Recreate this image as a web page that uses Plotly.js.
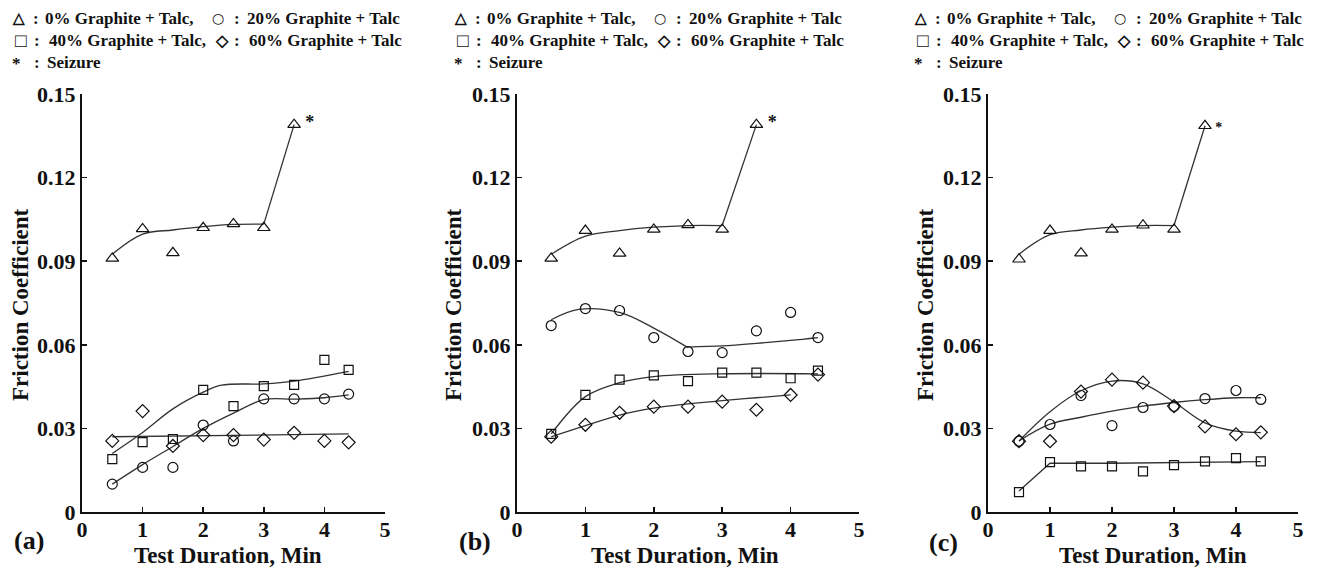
<!DOCTYPE html>
<html>
<head>
<meta charset="utf-8">
<script src="https://cdn.plot.ly/plotly-3.0.1.min.js"></script>
<style>html,body{margin:0;padding:0;background:#fff;}#chart{width:1318px;height:567px;}</style>
</head>
<body>
<div id="chart"></div>
<script>
// ---------- data ----------
const xTri = [0.5, 1, 1.5, 2, 2.5, 3, 3.5];
const xAll = [0.5, 1, 1.5, 2, 2.5, 3, 3.5, 4, 4.4];

// Panel (a)
const a_g0  = [0.091, 0.1016, 0.093, 0.102, 0.1034, 0.102, 0.139];
const a_g20 = [0.010, 0.016, 0.016, 0.0312, 0.0255, 0.0406, 0.0406, 0.0406, 0.0423];
const a_g40 = [0.019, 0.0251, 0.0262, 0.0438, 0.038, 0.0452, 0.0456, 0.0546, 0.051];
const a_g60 = [0.0255, 0.0362, 0.0237, 0.0276, 0.0276, 0.026, 0.0284, 0.0255, 0.025];
// Panel (b)
const b_g0  = [0.091, 0.101, 0.0928, 0.1014, 0.103, 0.1014, 0.139];
const b_g20 = [0.0669, 0.073, 0.0723, 0.0626, 0.0576, 0.0572, 0.065, 0.0716, 0.0626];
const b_g40 = [0.028, 0.042, 0.0475, 0.049, 0.047, 0.050, 0.050, 0.048, 0.0507];
const b_g60 = [0.027, 0.0313, 0.0356, 0.0378, 0.0378, 0.0396, 0.0367, 0.042, 0.0493];
// Panel (c)
const c_g0  = [0.0907, 0.101, 0.0929, 0.1014, 0.1029, 0.1014, 0.1386];
const c_g20 = [0.0254, 0.0314, 0.0418, 0.031, 0.0375, 0.0379, 0.0407, 0.0436, 0.0404];
const c_g40 = [0.0071, 0.0179, 0.0164, 0.0164, 0.0146, 0.0168, 0.0182, 0.0193, 0.0182];
const c_g60 = [0.0254, 0.0254, 0.0432, 0.0475, 0.0464, 0.038, 0.0307, 0.0279, 0.0286];

// fitted curves
const fit0_x = [0.5, 1, 1.5, 2, 2.5, 3];
const a_fit0 = [0.0925, 0.0997, 0.1012, 0.1024, 0.1032, 0.1033];
const b_fit0 = [0.0925, 0.0990, 0.1010, 0.1022, 0.1028, 0.1028];
const c_fit0 = [0.0925, 0.0995, 0.1012, 0.1022, 0.1028, 0.1028];
const seize_x = [3, 3.5];

const a_fit20_x = [0.5, 1, 1.5, 2, 2.5, 3, 3.5, 4, 4.4];
const a_fit20   = [0.010, 0.017, 0.0235, 0.030, 0.0355, 0.0403, 0.0405, 0.041, 0.042];
const a_fit40_x = [0.5, 1, 1.5, 2, 2.3, 3, 3.5, 4.4];
const a_fit40   = [0.021, 0.0285, 0.037, 0.043, 0.0455, 0.046, 0.047, 0.0505];
const a_fit60_x = [0.5, 4.4];
const a_fit60   = [0.027, 0.028];

const b_fit20a_x = [0.5, 0.9, 1.5, 2, 2.5];
const b_fit20a   = [0.069, 0.0727, 0.0716, 0.066, 0.059];
const b_fit20b_x = [2.5, 3, 3.5, 4, 4.4];
const b_fit20b   = [0.0592, 0.0596, 0.0605, 0.0616, 0.0626];
const b_fit40_x = [0.5, 1, 1.5, 2, 3, 4.4];
const b_fit40   = [0.028, 0.0414, 0.0464, 0.0486, 0.0496, 0.0496];
const b_fit60_x = [0.5, 1, 1.5, 2, 2.5, 3, 3.5, 4];
const b_fit60   = [0.027, 0.031, 0.0348, 0.0373, 0.0388, 0.0400, 0.041, 0.042];

const c_fit20_x = [0.5, 1, 1.5, 2, 2.5, 3, 3.5, 4, 4.4];
const c_fit20   = [0.0255, 0.0315, 0.034, 0.0362, 0.038, 0.0393, 0.0403, 0.041, 0.041];
const c_fit40_x = [0.5, 1, 2, 3, 4.4];
const c_fit40   = [0.0075, 0.0175, 0.0175, 0.0177, 0.0181];
const c_fit60_x = [0.5, 1, 1.5, 2, 2.5, 3, 3.5, 4, 4.4];
const c_fit60   = [0.0255, 0.036, 0.0435, 0.047, 0.046, 0.0395, 0.032, 0.029, 0.0285];

const seizure = {a: [3.76, 0.1395], b: [3.73, 0.1395], c: [3.72, 0.1375]};

const yTicks = [0, 0.03, 0.06, 0.09, 0.12, 0.15];
const yTickText = ['0', '0.03', '0.06', '0.09', '0.12', '0.15'];
const xTicks = [0, 1, 2, 3, 4, 5];
const xTickText = ['0', '1', '2', '3', '4', '5'];

// legend rows: [symbol, label]
const legendSymbols = ['\u25B3', '\u25CB', '\u25A1', '\u25C7', '*'];
const legendLabels = ['0% Graphite + Talc,', '20% Graphite + Talc', '40% Graphite + Talc,', '60% Graphite + Talc', 'Seizure'];
const yTitle = 'Friction Coefficient';
const xTitle = 'Test Duration, Min';
const panelLabels = ['(a)', '(b)', '(c)'];

// ---------- drawing ----------
const W = 1318, H = 567;
const SERIF = 'Liberation Serif';
const SYMF = 'DejaVu Sans';
const lineStyle = {color: '#333', width: 1.3};
const mk = (sym, size) => ({symbol: sym, size: size, color: '#111', line: {color: '#111', width: 1.2}});

const traces = [];
function addFit(x, y, ax, shape) {
  traces.push({x: x, y: y, xaxis: ax.x, yaxis: ax.y, mode: 'lines', line: Object.assign({shape: shape || 'spline', smoothing: 1}, lineStyle), hoverinfo: 'skip'});
}
function addPts(x, y, ax, sym, size) {
  traces.push({x: x, y: y, xaxis: ax.x, yaxis: ax.y, mode: 'markers', marker: mk(sym, size), cliponaxis: false});
}

const axA = {x: 'x', y: 'y'}, axB = {x: 'x2', y: 'y2'}, axC = {x: 'x3', y: 'y3'};

function panel(ax, g0, g20, g40, g60, fit0, fits, sz) {
  addFit(fit0_x, fit0, ax);
  addFit(seize_x, [fit0[fit0.length - 1], g0[g0.length - 1]], ax, 'linear');
  fits.forEach(f => addFit(f[0], f[1], ax, f[2]));
  addPts(xTri, g0, ax, 'triangle-up-open', 11);
  addPts(xAll, g20, ax, 'circle-open', 10);
  addPts(xAll, g40, ax, 'square-open', 9);
  addPts(xAll, g60, ax, 'diamond-open', 10);
  traces.push({x: [sz[0]], y: [sz[1]], xaxis: ax.x, yaxis: ax.y, mode: 'text', text: ['*'],
    textfont: {family: SERIF, size: sz[2], color: '#111', weight: 'bold'}, textposition: 'middle center', cliponaxis: false, hoverinfo: 'skip'});
}

panel(axA, a_g0, a_g20, a_g40, a_g60, a_fit0,
  [[a_fit20_x, a_fit20], [a_fit40_x, a_fit40], [a_fit60_x, a_fit60, 'linear']], seizure.a.concat([18]));
panel(axB, b_g0, b_g20, b_g40, b_g60, b_fit0,
  [[b_fit20a_x, b_fit20a], [b_fit20b_x, b_fit20b], [b_fit40_x, b_fit40], [b_fit60_x, b_fit60]], seizure.b.concat([18]));
panel(axC, c_g0, c_g20, c_g40, c_g60, c_fit0,
  [[c_fit20_x, c_fit20], [c_fit40_x, c_fit40, 'linear'], [c_fit60_x, c_fit60]], seizure.c.concat([14]));

const tickFont = {family: SERIF, size: 22, color: '#111', weight: 'bold'};
function xAxis(d0, d1, anchor) {
  return {domain: [d0 / W, d1 / W], range: [0, 5], anchor: anchor, showgrid: false, zeroline: false,
    showline: true, linecolor: '#111', linewidth: 2, ticks: 'inside', ticklen: 5, tickwidth: 1.5, tickcolor: '#111',
    tickvals: xTicks, ticktext: xTickText, tickfont: tickFont, fixedrange: true, ticklabelstandoff: -3};
}
function yAxis(anchor) {
  return {domain: [(H - 512) / H, (H - 94) / H], range: [0, 0.15], anchor: anchor, showgrid: false, zeroline: false,
    showline: true, linecolor: '#111', linewidth: 2, ticks: 'inside', ticklen: 5, tickwidth: 1.5, tickcolor: '#111',
    tickvals: yTicks, ticktext: yTickText, tickfont: tickFont, fixedrange: true, ticklabelstandoff: 0};
}

const anns = [];
const legFont = {family: SERIF, size: 17, color: '#111', weight: 'bold'};
function ann(text, x, y, opts) {
  anns.push(Object.assign({text: text, xref: 'paper', yref: 'paper', x: x / W, y: 1 - y / H,
    xanchor: 'left', yanchor: 'middle', showarrow: false, font: legFont}, opts || {}));
}
// legend layout in px: [symbolCenterX, colonX, textX, rowY, symbolSize, symbolFamily]
const legendPos = [
  [18, 31, 43, 18, 15, SERIF],
  [218, 232, 245, 18, 14, SYMF],
  [21, 32, 47, 40, 19, SERIF],
  [222, 232, 247, 40, 16, SERIF],
  [16, 32, 45, 62, 17, SERIF]
];
const panelOffsets = [0, 442, 902];
panelOffsets.forEach(off => {
  legendPos.forEach((p, i) => {
    ann(legendSymbols[i], off + p[0], p[3] + (i === 4 ? 1 : 0),
      {xanchor: 'center', font: {family: p[5], size: p[4], color: '#111', weight: 'bold'}});
    ann(':', off + p[1], p[3]);
    ann(legendLabels[i], off + p[2], p[3]);
  });
});
const bigFont = {family: SERIF, size: 23, color: '#111', weight: 'bold'};
[20, 453, 925].forEach(x => ann(yTitle, x, 305, {xanchor: 'center', textangle: -90, font: bigFont}));
[228, 685, 1153].forEach(x => ann(xTitle, x, 555, {xanchor: 'center', font: bigFont}));
[[12, 540], [457, 541], [927, 542]].forEach((p, i) =>
  ann(panelLabels[i], p[0], p[1], {font: {family: SERIF, size: 26, color: '#111', weight: 'bold'}}));

const layout = {
  width: W, height: H, margin: {l: 0, r: 0, t: 0, b: 0}, showlegend: false,
  paper_bgcolor: '#fff', plot_bgcolor: '#fff',
  xaxis: xAxis(82, 385, 'y'), yaxis: yAxis('x'),
  xaxis2: xAxis(517, 859, 'y2'), yaxis2: yAxis('x2'),
  xaxis3: xAxis(988, 1298, 'y3'), yaxis3: yAxis('x3'),
  annotations: anns
};
Plotly.newPlot('chart', traces, layout, {displayModeBar: false, staticPlot: true});
</script>
</body>
</html>
